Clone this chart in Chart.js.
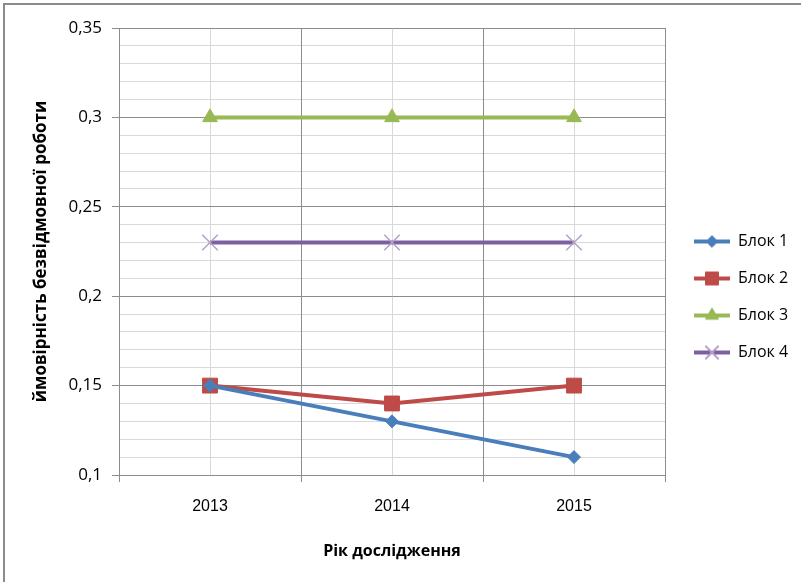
<!DOCTYPE html>
<html>
<head>
<meta charset="utf-8">
<script src="https://cdn.jsdelivr.net/npm/chart.js@4"></script>
<style>
  body { margin: 0; background: #fff; }
  #wrap { position: relative; width: 801px; height: 582px; }
  #frame {
    position: absolute; left: 3px; top: 3px; right: 0; bottom: 0;
    border-left: 2px solid #8c8c8c; border-top: 2px solid #8c8c8c;
    pointer-events: none;
  }
</style>
</head>
<body>
<div id="wrap">
  <canvas id="chart" width="801" height="582"></canvas>
  <div id="frame"></div>
</div>
<script>
const years = ["2013", "2014", "2015"];
const blok1 = [0.15, 0.13, 0.11];
const blok2 = [0.15, 0.14, 0.15];
const blok3 = [0.3, 0.3, 0.3];
const blok4 = [0.23, 0.23, 0.23];
const seriesNames = ["Блок 1", "Блок 2", "Блок 3", "Блок 4"];
const yTicks = [0.1, 0.15, 0.2, 0.25, 0.3, 0.35];

const fontFamily = "'Open Sans', 'Noto Sans', sans-serif";
const gridDark = "#8c8c8c";
const gridLight = "#d9d9d9";

const styles = [
  { color: "#4a7ebb", pointStyle: "rectRot", radius: 6.5, pointColor: "#4a7ebb", pointBorder: 1 },
  { color: "#be4b48", pointStyle: "rect", radius: 10.5, pointColor: "#be4b48", pointBorder: 1 },
  { color: "#98b954", pointStyle: "triangle", radius: 8.5, pointColor: "#98b954", pointBorder: 1 },
  { color: "#7d60a0", pointStyle: "crossRot", radius: 11, pointColor: "#b3a2c7", pointBorder: 1.5 },
];

// small picture for the legend: line with the marker in the middle
const legendIcon = (s) => {
  const c = document.createElement("canvas");
  c.width = 44;
  c.height = 20;
  const g = c.getContext("2d");
  g.strokeStyle = s.color;
  g.lineWidth = 4;
  g.beginPath();
  g.moveTo(8, 10);
  g.lineTo(44, 10);
  g.stroke();
  g.fillStyle = s.pointColor;
  g.strokeStyle = s.pointColor;
  g.lineWidth = s.pointBorder;
  Chart.helpers.drawPoint(g, { pointStyle: s.pointStyle, radius: s.radius * 0.85, rotation: 0, borderWidth: s.pointBorder }, 26, 10);
  if (s.pointStyle !== "crossRot") g.fill();
  g.stroke();
  return c;
};

const values = [blok1, blok2, blok3, blok4];
const datasets = values.map((data, i) => ({
  label: seriesNames[i],
  data: data,
  borderColor: styles[i].color,
  backgroundColor: styles[i].pointColor,
  borderWidth: 4,
  pointStyle: styles[i].pointStyle,
  pointRadius: styles[i].radius,
  pointHoverRadius: styles[i].radius,
  pointBackgroundColor: styles[i].pointColor,
  pointBorderColor: styles[i].pointColor,
  pointBorderWidth: styles[i].pointBorder,
  tension: 0,
}));

const fixLegendWidth = {
  id: "fixLegendWidth",
  afterInit(chart) {
    const legend = chart.legend;
    const fit = legend.fit;
    legend.fit = function () {
      fit.call(this);
      this.width = 136;
    };
  },
};

const fmt = (v) => String(Number(v.toFixed(2))).replace(".", ",");

new Chart(document.getElementById("chart"), {
  type: "line",
  data: { labels: years, datasets: datasets },
  plugins: [fixLegendWidth],
  options: {
    responsive: false,
    animation: false,
    layout: { padding: { top: 28, bottom: 16, left: 0, right: 0 } },
    plugins: {
      tooltip: { enabled: false },
      legend: {
        position: "right",
        labels: {
          usePointStyle: true,
          pointStyleWidth: 44,
          padding: 21,
          color: "#000",
          font: { family: fontFamily, size: 16 },
          generateLabels: (chart) =>
            chart.data.datasets.map((ds, i) => ({
              text: ds.label,
              pointStyle: legendIcon(styles[i]),
              fillStyle: ds.borderColor,
              strokeStyle: ds.borderColor,
              lineWidth: 0,
              fontColor: "#000",
              hidden: false,
              datasetIndex: i,
            })),
        },
      },
    },
    scales: {
      x2: {
        type: "category",
        position: "bottom",
        offset: true,
        z: -1,
        grid: { offset: false, color: gridLight, drawTicks: false },
        border: { display: false },
        ticks: { display: false },
        afterFit: (s) => { s.height = 0; },
      },
      y2: {
        type: "linear",
        position: "left",
        min: 0.1,
        max: 0.35,
        z: -1,
        grid: { color: gridLight, drawTicks: false },
        border: { display: false },
        ticks: { display: false, stepSize: 0.01 },
        afterFit: (s) => { s.width = 0; },
      },
      x: {
        type: "category",
        offset: true,
        grid: { offset: true, color: gridDark, tickLength: 7 },
        border: { color: gridDark, width: 1 },
        ticks: {
          color: "#000",
          padding: 15,
          font: { family: "'Liberation Sans', Arial, sans-serif", size: 16 },
        },
        title: {
          display: true,
          text: "Рік дослідження",
          color: "#000",
          padding: { top: 0, bottom: 5 },
          font: { family: fontFamily, size: 16, weight: "bold" },
        },
        afterFit: (s) => { s.height = 91; },
      },
      y: {
        type: "linear",
        min: 0.1,
        max: 0.35,
        afterBuildTicks: (s) => { s.ticks = yTicks.map((v) => ({ value: v })); },
        grid: { color: gridDark, tickLength: 7 },
        border: { color: gridDark, width: 1 },
        ticks: {
          color: "#000",
          padding: 10,
          callback: (v) => fmt(v),
          font: { family: fontFamily, size: 17 },
        },
        title: {
          display: true,
          text: "ймовірність безвідмовної роботи",
          color: "#000",
          padding: { top: 31, bottom: 0 },
          font: { family: fontFamily, size: 17, weight: "bold" },
        },
        afterFit: (s) => { s.width = 119; },
      },
    },
  },
});
</script>
</body>
</html>
